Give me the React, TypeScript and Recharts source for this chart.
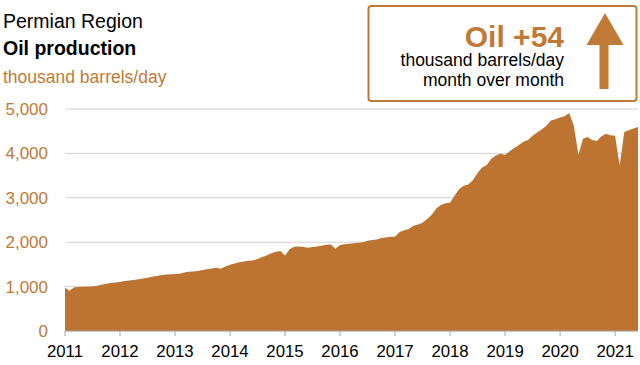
import React from "react";
import { AreaChart, Area, XAxis, YAxis, CartesianGrid } from "recharts";

// monthly crude oil production, thousand barrels/day
const startYear = 2011;
const oil2011 = [975, 905, 985, 990, 995, 1000, 1005, 1020, 1040, 1065, 1080, 1090];
const oil2012 = [1105, 1125, 1140, 1150, 1165, 1185, 1200, 1220, 1240, 1255, 1270, 1280];
const oil2013 = [1285, 1290, 1315, 1335, 1340, 1350, 1375, 1390, 1410, 1425, 1400, 1450];
const oil2014 = [1490, 1520, 1550, 1565, 1580, 1590, 1620, 1665, 1700, 1750, 1785, 1800];
const oil2015 = [1700, 1840, 1900, 1905, 1890, 1875, 1890, 1905, 1920, 1940, 1950, 1850];
const oil2016 = [1935, 1955, 1965, 1975, 1985, 2000, 2030, 2050, 2060, 2095, 2105, 2120];
const oil2017 = [2125, 2230, 2270, 2300, 2370, 2400, 2440, 2520, 2620, 2760, 2840, 2880];
const oil2018 = [2890, 3050, 3200, 3270, 3300, 3400, 3560, 3680, 3740, 3880, 3950, 3990];
const oil2019 = [3965, 4050, 4120, 4190, 4260, 4300, 4400, 4470, 4540, 4620, 4740, 4770];
const oil2020 = [4810, 4835, 4910, 4620, 3970, 4330, 4370, 4300, 4280, 4380, 4440, 4410];
const oil2021 = [4400, 3720, 4480, 4520, 4560, 4595];

const yearTicks = [2011, 2012, 2013, 2014, 2015, 2016, 2017, 2018, 2019, 2020, 2021];
const valueTicks = [0, 1000, 2000, 3000, 4000, 5000];

const monthly = [
  ...oil2011, ...oil2012, ...oil2013, ...oil2014, ...oil2015, ...oil2016,
  ...oil2017, ...oil2018, ...oil2019, ...oil2020, ...oil2021,
];
const data = monthly.map((v, i) => ({ t: startYear + i / 12, oil: v }));
const lastT = startYear + (monthly.length - 1) / 12;

const FONT = "'Liberation Sans', Arial, sans-serif";
const ORANGE = "#C07A35";
const FILL = "#BD7430";

export default function App() {
  return (
    <div style={{ position: "absolute", left: 0, top: 0, width: 640, height: 365, background: "#fff", fontFamily: FONT }}>
      <AreaChart
        width={640}
        height={365}
        data={data}
        margin={{ top: 109, right: 2, left: 0, bottom: 0 }}
      >
        <CartesianGrid vertical={false} stroke="#d2d2d2" />
        <XAxis
          type="number"
          dataKey="t"
          domain={[startYear, lastT]}
          ticks={yearTicks}
          interval={0}
          height={34}
          tickSize={5}
          tickMargin={9}
          axisLine={{ stroke: "#a6a6a6" }}
          tickLine={{ stroke: "#a6a6a6" }}
          tick={{ fill: "#000", fontSize: 16.8, fontFamily: FONT }}
        />
        <YAxis
          width={65}
          domain={[0, 5000]}
          ticks={valueTicks}
          interval={0}
          axisLine={false}
          tickLine={false}
          tickSize={6}
          tickMargin={11}
          tickFormatter={(v: number) => v.toLocaleString("en-US")}
          tick={{ fill: ORANGE, fontSize: 17, fontFamily: FONT }}
        />
        <Area
          type="linear"
          dataKey="oil"
          stroke="none"
          fill={FILL}
          fillOpacity={1}
          dot={false}
          activeDot={false}
          isAnimationActive={false}
        />
      </AreaChart>

      <svg width={640} height={365} style={{ position: "absolute", left: 0, top: 0, pointerEvents: "none" }}>
        <text x={3} y={28} fontSize={19.5} fill="#000" fontFamily={FONT}>Permian Region</text>
        <text x={3} y={55} fontSize={19.5} fontWeight="bold" fill="#000" fontFamily={FONT}>Oil production</text>
        <text x={3} y={82.5} fontSize={17.5} fill={ORANGE} fontFamily={FONT}>thousand barrels/day</text>

        <rect x={368.5} y={6} width={268} height={95} rx={3} fill="#fff" stroke={ORANGE} strokeWidth={2} />
        <text x={564} y={46.5} fontSize={30} fontWeight="bold" fill={ORANGE} textAnchor="end" fontFamily={FONT}>Oil +54</text>
        <text x={564} y={66} fontSize={17.5} fill="#000" textAnchor="end" fontFamily={FONT}>thousand barrels/day</text>
        <text x={564} y={86} fontSize={17.5} fill="#000" textAnchor="end" fontFamily={FONT}>month over month</text>
        <polygon points="586.5,45 605,13 623.5,45" fill={ORANGE} />
        <rect x={599.5} y={44} width={9} height={45} fill={ORANGE} />
      </svg>
    </div>
  );
}
